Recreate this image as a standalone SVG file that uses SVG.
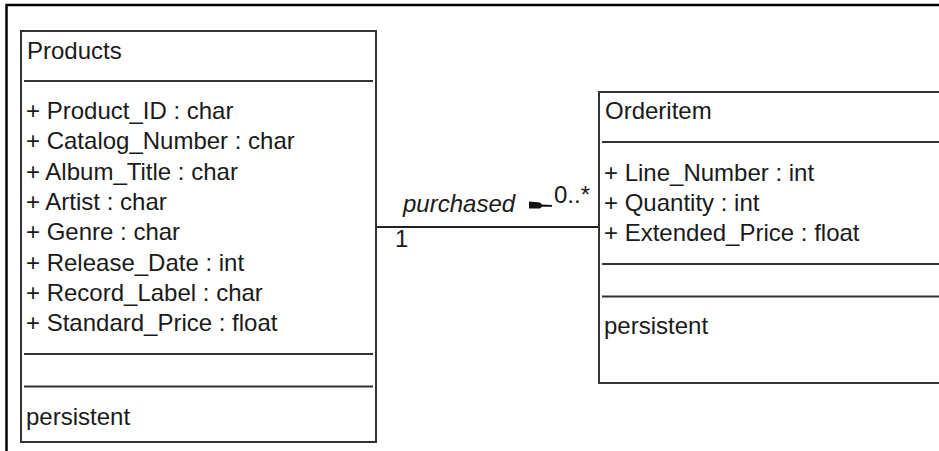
<svg xmlns="http://www.w3.org/2000/svg" width="939" height="451" viewBox="0 0 939 451">
<style>
.box{fill:#fff;stroke:#333;stroke-width:2}
.div{stroke:#333;stroke-width:2}
.t{font-family:"Liberation Sans",Arial,sans-serif;font-size:24px;fill:#1a1a1a}
.it{font-style:italic}
.frame{stroke:#000;stroke-width:2.5;fill:none}
</style>
<rect width="939" height="451" fill="#fff"/>
<path class="frame" d="M6.5,451 V5 H939"/>
<g id="connectors">
<line x1="376" y1="227" x2="599" y2="227" stroke="#222" stroke-width="2"/>
<text class="t" x="395" y="247">1</text>
<text class="t it" x="403" y="212">purchased</text>
<polygon points="529,201.5 540,202.5 542,204.5 552,205 552,206.8 542,206.8 540,208.5 529,208.5" fill="#111"/>
<text class="t" x="554" y="203">0..*</text>
</g>
<g id="products">
<rect class="box" x="21" y="31" width="355" height="411"/>
<text class="t" x="27" y="59">Products</text>
<line class="div" x1="24" y1="81" x2="373" y2="81"/>
<text class="t" x="26" y="119">+ Product_ID : char</text>
<text class="t" x="26" y="149.3">+ Catalog_Number : char</text>
<text class="t" x="26" y="179.6">+ Album_Title : char</text>
<text class="t" x="26" y="209.9">+ Artist : char</text>
<text class="t" x="26" y="240.2">+ Genre : char</text>
<text class="t" x="26" y="270.5">+ Release_Date : int</text>
<text class="t" x="26" y="300.8">+ Record_Label : char</text>
<text class="t" x="26" y="331">+ Standard_Price : float</text>
<line class="div" x1="24" y1="354" x2="373" y2="354"/>
<line class="div" x1="24" y1="386.5" x2="373" y2="386.5"/>
<text class="t" x="26" y="425">persistent</text>
</g>
<g id="orderitem">
<rect class="box" x="599" y="92" width="350" height="291"/>
<text class="t" x="605" y="119">Orderitem</text>
<line class="div" x1="602" y1="142" x2="939" y2="142"/>
<text class="t" x="604" y="181">+ Line_Number : int</text>
<text class="t" x="604" y="211">+ Quantity : int</text>
<text class="t" x="604" y="241">+ Extended_Price : float</text>
<line class="div" x1="602" y1="264" x2="939" y2="264"/>
<line class="div" x1="602" y1="296.5" x2="939" y2="296.5"/>
<text class="t" x="604" y="334">persistent</text>
</g>
</svg>
